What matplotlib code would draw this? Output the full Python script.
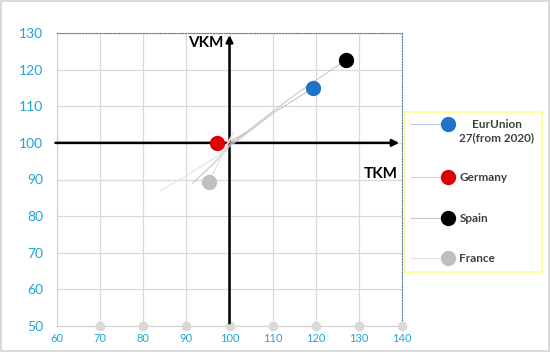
import matplotlib
matplotlib.use("Agg")
import matplotlib.pyplot as plt
from matplotlib.lines import Line2D
from matplotlib.legend_handler import HandlerBase

# Data
series_names = ["EurUnion\n27(from 2020)", "Germany", "Spain", "France"]
marker_colors = ["#1f73c8", "#e00000", "#000000", "#bfbfbf"]
line_colors = ["#b8c8d8", "#f2c6c6", "#c8c8c8", "#e2e2e2"]
end_x = [119.4, 97.2, 127.0, 95.2]
end_y = [115.0, 100.0, 122.7, 89.3]
traj_x = [[91.5, 96, 100, 110, 119.4],
          [100, 102, 104, 101, 97.2],
          [99, 105, 115, 127.0],
          [84, 90, 98, 101, 95.2]]
traj_y = [[89, 94, 99, 108, 115.0],
          [100, 101.5, 103, 101, 100.0],
          [98.5, 104, 113, 122.7],
          [87, 91, 97, 103, 89.3]]
xticks = [60, 70, 80, 90, 100, 110, 120, 130, 140]
yticks = [50, 60, 70, 80, 90, 100, 110, 120, 130]
base_dots_x = [70, 80, 90, 100, 110, 120, 130, 140]

plt.rcParams['font.family'] = ['Lato', 'DejaVu Sans']


class EndMarkerHandler(HandlerBase):
    """Legend handle: thin line with the marker at its right end."""
    def __init__(self, dy=0.0, **kw):
        super().__init__(**kw)
        self.dy = dy

    def create_artists(self, legend, orig_handle, xdescent, ydescent,
                       width, height, fontsize, trans):
        y = -ydescent + height / 2 + self.dy * fontsize
        x0 = -xdescent
        x1 = -xdescent + width
        ln = Line2D([x0, x1], [y, y], color=orig_handle.get_color(),
                    lw=orig_handle.get_linewidth())
        mk = Line2D([x1], [y], linestyle='none', marker='o',
                    markersize=orig_handle.get_markersize(),
                    markerfacecolor=orig_handle.get_markerfacecolor(),
                    markeredgecolor=orig_handle.get_markeredgecolor())
        ln.set_transform(trans)
        mk.set_transform(trans)
        return [ln, mk]


fig = plt.figure(figsize=(5.5, 3.52), dpi=100)
fig.patch.set_edgecolor('#d9d9d9')
fig.patch.set_linewidth(1.5)
ax = fig.add_axes([57/550, 1-326/352, 345/550, 293/352])

ax.set_xlim(60, 140)
ax.set_ylim(50, 130)
ax.set_xticks(xticks)
ax.set_yticks(yticks)
ax.grid(True, color='#d9d9d9', linewidth=0.9)
ax.set_axisbelow(True)
ax.tick_params(axis='both', length=0, colors='#1ea5dc')
ax.tick_params(axis='y', labelsize=10, pad=10)
ax.tick_params(axis='x', labelsize=8, pad=5)
for lab in ax.get_xticklabels() + ax.get_yticklabels():
    lab.set_color('#1ea5dc')

for s in ['left', 'bottom']:
    ax.spines[s].set_color('#d0d0d0')
for s in ['top', 'right']:
    ax.spines[s].set_color('#5a7aa8')
    ax.spines[s].set_linestyle((0, (1, 1.5)))
    ax.spines[s].set_linewidth(0.8)

# base dots
ax.plot(base_dots_x, [50]*len(base_dots_x), 'o', color='#d9d9d9', markersize=6, clip_on=False, zorder=3)

# arrows
ax.annotate('', xy=(140, 100), xytext=(59, 100), xycoords='data',
            arrowprops=dict(arrowstyle='-|>', color='black', lw=1.8, mutation_scale=10),
            annotation_clip=False)
ax.annotate('', xy=(100, 130.2), xytext=(100, 50), xycoords='data',
            arrowprops=dict(arrowstyle='-|>', color='black', lw=1.8, mutation_scale=10),
            annotation_clip=False)
ax.text(98.5, 127.3, 'VKM', fontsize=11, fontweight='bold', ha='right', va='center')
ax.text(139.0, 91.5, 'TKM', fontsize=11, fontweight='bold', ha='right', va='center')

for i in range(len(series_names)):
    ax.plot(traj_x[i], traj_y[i], color=line_colors[i], lw=0.8, zorder=4)
    ax.plot([end_x[i]], [end_y[i]], 'o', color=marker_colors[i], markersize=10, zorder=5)

handles = [Line2D([0, 1], [0, 0], color=line_colors[i], lw=0.8, marker='o', markersize=10,
                  markerfacecolor=marker_colors[i], markeredgecolor=marker_colors[i])
           for i in range(len(series_names))]
hmap = {h: EndMarkerHandler(dy=(0.6 if i == 0 else 0.0)) for i, h in enumerate(handles)}

leg = fig.legend(handles, series_names, loc='upper left', handler_map=hmap,
                 bbox_to_anchor=(404/550, 1-112/352), borderaxespad=0,
                 frameon=True, fancybox=False, edgecolor='#ffff66',
                 prop={'weight': 'bold', 'size': 8.5}, labelspacing=2.5,
                 handlelength=3.1, handletextpad=1.0, borderpad=0.6)
leg.get_frame().set_linewidth(1.2)
for i, t in enumerate(leg.get_texts()):
    t.set_color('#404040')
    if i == 0:
        t.set_multialignment('center')

fig.savefig('out.png', dpi=100, edgecolor=fig.get_edgecolor())
